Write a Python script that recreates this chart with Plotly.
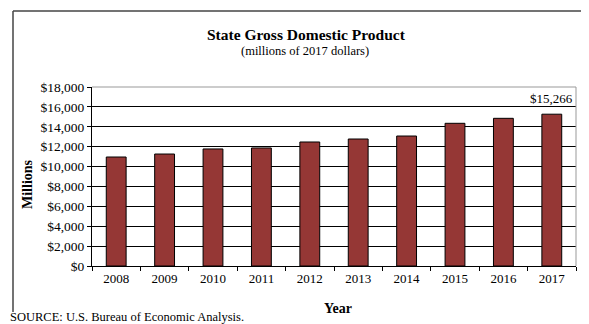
import plotly.graph_objects as go

years = ["2008", "2009", "2010", "2011", "2012", "2013", "2014", "2015", "2016", "2017"]
gdp = [10960, 11260, 11770, 11870, 12470, 12770, 13070, 14350, 14850, 15266]
y_ticks = [0, 2000, 4000, 6000, 8000, 10000, 12000, 14000, 16000, 18000]

serif = "Liberation Serif, Times New Roman, serif"

fig = go.Figure(go.Bar(
    x=years, y=gdp,
    marker=dict(color="#953735", line=dict(color="#000000", width=1)),
))

# value label for the last bar only (category index of the last year)
fig.add_annotation(x=len(years) - 1, y=gdp[-1], text="${:,}".format(gdp[-1]),
                   showarrow=False, yanchor="bottom", yshift=6,
                   font=dict(family=serif, size=13, color="#000"))

# page body has an 8px margin, so the figure is 8px smaller and shifted
W, H = 581, 316
L, R, T, B = 84, 13, 79, 58
pw, ph = W - L - R, H - T - B


def px(x):
    return (x - 8 - L) / pw


def py(y):
    return (H - B - (y - 8)) / ph


fig.update_layout(
    width=W, height=H,
    margin=dict(l=L, r=R, t=T, b=B),
    paper_bgcolor="white", plot_bgcolor="white",
    font=dict(family=serif, size=13, color="#000"),
    bargap=0.59,
    showlegend=False,
)

fig.update_xaxes(
    type="category", showline=True, linecolor="#000", linewidth=1,
    ticks="outside", tickson="boundaries", ticklen=4, tickcolor="#000",
    tickfont=dict(size=13),
)
fig.update_yaxes(
    range=[0, 18000], tickvals=y_ticks, tickformat="$,.0f",
    showgrid=True, gridcolor="#000", gridwidth=1,
    showline=True, linecolor="#000", linewidth=1,
    ticks="outside", ticklen=4, tickcolor="#000",
    tickfont=dict(size=13.5),
)

text_style = dict(xref="paper", yref="paper", showarrow=False, xanchor="center", yanchor="middle")
fig.add_annotation(text="<b>State Gross Domestic Product</b>", x=px(306), y=py(34),
                   font=dict(family=serif, size=15.5, color="#000"), **text_style)
fig.add_annotation(text="(millions of 2017 dollars)", x=px(305), y=py(51),
                   font=dict(family=serif, size=12.5, color="#000"), **text_style)
fig.add_annotation(text="<b>Year</b>", x=px(338), y=py(308),
                   font=dict(family=serif, size=14, color="#000"), **text_style)
fig.add_annotation(text="<b>Millions</b>", x=px(27), y=py(184), textangle=-90,
                   font=dict(family=serif, size=14, color="#000"), **text_style)

# plot area border: grey on top and right
grey = dict(color="#999", width=1)
fig.add_shape(type="line", xref="paper", yref="paper", x0=1, x1=1, y0=0, y1=1, line=grey)
fig.add_shape(type="line", xref="paper", yref="paper", x0=0, x1=1, y0=1, y1=1, line=grey)

# page frame lines around the chart
frame = dict(color="#444", width=1.5)
fig.add_shape(type="line", xref="paper", yref="paper", x0=px(13), x1=px(600), y0=py(11), y1=py(11), line=frame)
fig.add_shape(type="line", xref="paper", yref="paper", x0=px(13), x1=px(13), y0=py(11), y1=py(312), line=frame)
fig.add_shape(type="line", xref="paper", yref="paper", x0=px(13), x1=px(600), y0=py(3), y1=py(3), line=frame)
fig.add_shape(type="line", xref="paper", yref="paper", x0=px(13), x1=px(13), y0=py(3), y1=py(0), line=frame)

fig.add_annotation(text="SOURCE: U.S. Bureau of Economic Analysis.", xref="paper", yref="paper",
                   x=px(8), y=py(316.5), xanchor="left", yanchor="middle", showarrow=False,
                   font=dict(family=serif, size=12.5, color="#000"))

fig.write_html("out.html")
